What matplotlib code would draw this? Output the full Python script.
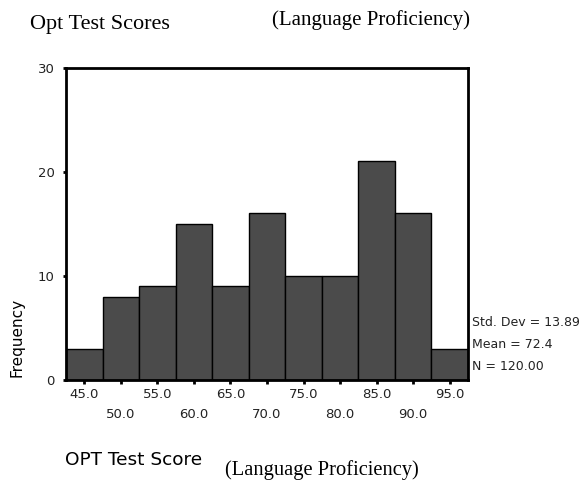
import matplotlib.pyplot as plt
import matplotlib as mpl

mpl.rcParams['font.family'] = 'DejaVu Sans'

# bin centres and counts
bin_centers = [45, 50, 55, 60, 65, 70, 75, 80, 85, 90, 95]
counts = [3, 8, 9, 15, 9, 16, 10, 10, 21, 16, 3]
tick_labels = ['45.0', '\n50.0', '55.0', '\n60.0', '65.0', '\n70.0',
               '75.0', '\n80.0', '85.0', '\n90.0', '95.0']
stats_lines = ['Std. Dev = 13.89', 'Mean = 72.4', 'N = 120.00']

fig = plt.figure(figsize=(5.82, 4.84), dpi=100)
ax = fig.add_axes([0.1134, 0.215, 0.6906, 0.645])

ax.bar(bin_centers, counts, width=5, color='#4b4b4b', edgecolor='black',
       linewidth=1.0)

ax.set_xlim(42.5, 97.5)
ax.set_ylim(0, 30)
ax.set_yticks([0, 10, 20, 30])
ax.set_xticks(bin_centers, labels=tick_labels)
ax.tick_params(axis='x', length=3, width=2, pad=3, labelsize=9.5,
               labelcolor='#222222')
ax.tick_params(axis='y', length=2, width=2, pad=6, labelsize=9.5,
               labelcolor='#222222')
for lab in ax.get_xticklabels():
    lab.set_linespacing(1.7)
for s in ax.spines.values():
    s.set_linewidth(2)

fig.text(17 / 582, 1 - 337 / 484, 'Frequency', rotation=90, fontsize=11,
         ha='center', va='center')

# statistics box on the right
for i, line in enumerate(stats_lines):
    fig.text(472 / 582, 1 - (323 + i * 22) / 484, line, fontsize=9,
             va='center', color='#222222')

# titles
fig.text(30 / 582, 1 - 25 / 484, 'Opt Test Scores', family='Liberation Serif',
         fontsize=16, va='center')
fig.text(272 / 582, 1 - 20 / 484, '(Language Proficiency)',
         family='Liberation Serif', fontsize=15, va='center')
fig.text(65 / 582, 1 - 460 / 484, 'OPT Test Score', fontsize=13.3,
         va='center')
fig.text(225 / 582, 1 - 470 / 484, '(Language Proficiency)',
         family='Liberation Serif', fontsize=14.8, va='center')

plt.savefig('out.png', dpi=100)
